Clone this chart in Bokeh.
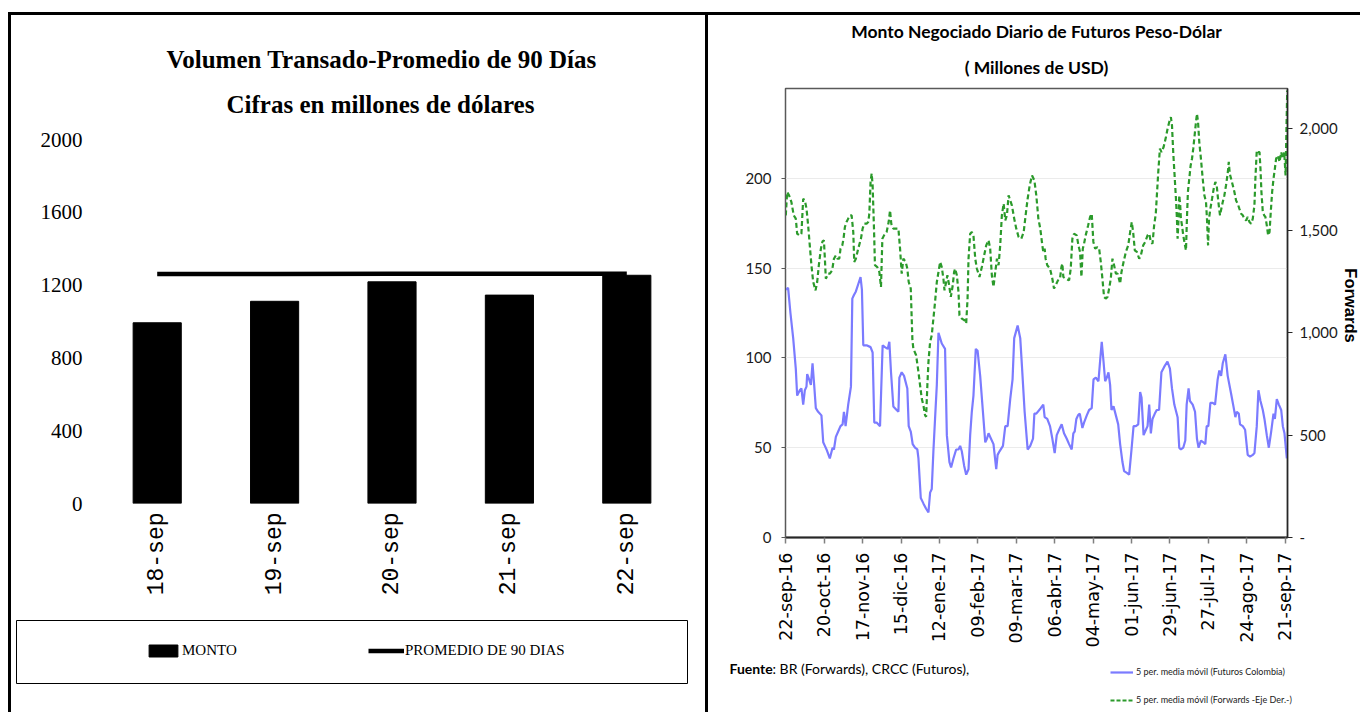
import math
import pandas as pd
from bokeh.plotting import figure
from bokeh.models import (Range1d, FixedTicker, LinearAxis, Legend, LegendItem,
                          Label, Title)
from bokeh.layouts import row, column
from bokeh.embed import file_html
from bokeh.resources import INLINE

# ---------------- Left chart data ----------------
categories = ["18-sep", "19-sep", "20-sep", "21-sep", "22-sep"]
monto = [993, 1111, 1218, 1145, 1254]
promedio_90 = [1261, 1261, 1262, 1262, 1263]
left_ticks = [0, 400, 800, 1200, 1600, 2000]

# ---------------- Right chart data ----------------
start_date = "2016-09-22"   # day 0 of the offsets below
fut_day = [0, 1.7, 3.4, 5.4, 7.3, 8.3, 10.2, 11.4, 12.7, 13.9, 15.1, 15.6, 17.0, 18.3, 19.5, 20.7,
           21.9, 23.6, 26.0, 27.3, 28.5, 29.7, 32.1, 34.1, 35.1, 36.5, 38.2, 39.9, 41.4, 42.4, 43.6,
           45.5, 47.5, 48.5, 49.7, 51.1, 52.8, 54.5, 55.5, 56.5, 58.9, 61.8, 63.3, 64.5, 66.2, 68.7,
           70.6, 72.3, 74.3, 75.5, 76.7, 78.4, 80.8, 82.1, 82.8, 84.5, 86.2, 88.6, 89.6, 91.1, 92.5,
           94.2, 95.9, 96.7, 98.4, 100.3, 102.3, 104.0, 105.2, 106.4, 107.6, 108.8, 110.1, 111.3,
           112.5, 113.7, 116.1, 117.4, 119.3, 120.5, 122.2, 124.2, 125.9, 127.1, 128.3, 130.0, 131.5,
           133.2, 134.4, 135.6, 136.8, 138.5, 139.8, 141.7, 143.7, 145.4, 146.6, 147.8, 149.0, 151.4,
           153.4, 154.4, 155.8, 158.3, 160.0, 161.7, 163.6, 165.3, 166.5, 169.0, 170.9, 172.1, 174.1,
           176.3, 178.2, 180.2, 181.2, 182.6, 185.8, 187.7, 188.7, 190.6, 192.6, 194.3, 196.0, 197.5,
           199.2, 201.1, 202.8, 204.8, 206.5, 208.4, 209.6, 210.6, 211.8, 213.0, 214.3, 216.2, 217.4,
           219.4, 221.1, 223.0, 224.3, 226.0, 227.9, 229.2, 230.3, 231.6, 232.8, 234.0, 235.2, 236.4,
           237.4, 238.9, 240.6, 242.3, 243.7, 245.4, 246.6, 248.6, 250.3, 252.0, 253.5, 255.2, 256.9,
           258.3, 259.3, 260.8, 262.5, 263.7, 264.9, 266.1, 267.3, 269.0, 270.4, 272.1, 273.8, 275.8,
           278.2, 280.0, 281.5, 283.2, 285.6, 286.8, 288.0, 289.7, 291.2, 292.2, 293.6, 294.6, 296.6,
           298.3, 299.7, 300.9, 302.6, 304.4, 305.8, 306.8, 308.0, 309.5, 311.2, 312.9, 314.8, 316.0,
           317.3, 318.5, 320.4, 322.1, 324.6, 326.3, 327.7, 328.7, 330.2, 331.1, 333.1, 334.8, 336.0,
           336.7, 338.4, 340.4, 341.6, 343.3, 344.5, 346.0, 347.7, 348.9, 350.6, 352.1, 353.8, 355.5,
           356.5, 357.9, 359.4, 361.1, 362.3, 363.5, 365.2]
fut_val = [138, 139, 125, 111, 94, 79, 82, 83, 74, 82, 84, 91, 88, 85, 97, 85,
           72, 70, 68, 53, 51, 49, 44, 50, 49, 56, 59, 62, 63, 70, 62,
           74, 84, 133, 135, 137, 141, 145, 138, 107, 107, 106, 103, 64, 64, 62,
           107, 106, 105, 109, 92, 73, 71, 70, 89, 92, 90, 83, 62, 59, 52,
           50, 49, 44, 22, 19, 16, 14, 25, 27, 48, 66, 85, 114,
           111, 108, 105, 57, 42, 39, 44, 49, 49, 51, 48, 40, 35,
           38, 57, 70, 79, 105, 104, 90, 70, 53, 55, 58, 56, 52,
           38, 46, 48, 51, 62, 62, 77, 88, 111, 118, 111, 96, 70,
           49, 51, 55, 69, 69, 72, 74, 67, 66, 62, 55, 47, 57,
           60, 63, 58, 55, 52, 49, 58, 59, 66, 68, 69, 61, 64,
           68, 71, 72, 88, 89, 87, 99, 109, 98, 87, 89, 92, 85,
           71, 73, 68, 63, 52, 42, 37, 36, 35, 49, 62, 62, 63,
           81, 78, 57, 60, 62, 74, 58, 66, 69, 71, 71, 92, 95,
           98, 94, 83, 74, 67, 50, 49, 50, 54, 74, 83, 76, 74,
           70, 55, 50, 54, 53, 52, 62, 62, 75, 75, 74, 88, 93,
           90, 97, 102, 90, 80, 73, 67, 70, 69, 63, 62, 60, 51,
           46, 45, 46, 47, 62, 82, 76, 71, 66, 57, 50, 59, 69,
           66, 77, 74, 71, 62, 58, 44]

fwd_day = [0, 1.0, 2.4, 4.1, 5.8, 7.3, 8.3, 10.2, 11.4, 12.7, 13.9, 15.1, 16.3, 17.5, 18.7, 20.0,
           21.7, 22.9, 24.1, 25.6, 26.8, 27.8, 28.5, 29.2, 30.9, 32.1, 33.8, 35.1, 36.5, 37.7, 39.0,
           39.9, 41.2, 42.1, 43.1, 44.3, 45.5, 46.8, 48.0, 49.2, 49.9, 51.1, 52.8, 54.8, 56.0, 57.2,
           58.9, 60.1, 60.9, 61.8, 62.6, 63.3, 64.3, 65.0, 66.7, 68.2, 69.4, 70.4, 71.6, 73.5, 75.0,
           76.0, 76.9, 78.4, 80.1, 82.1, 83.3, 84.5, 85.7, 87.4, 88.6, 89.6, 91.1, 92.3, 93.0, 95.0,
           96.7, 97.9, 99.1, 100.3, 101.5, 102.3, 103.2, 104.0, 105.2, 106.4, 107.6, 108.8, 110.1,
           111.3, 112.5, 113.7, 114.9, 115.7, 116.9, 117.8, 119.1, 120.3, 121.7, 122.7, 123.4, 124.7,
           125.9, 126.6, 128.3, 130.3, 131.5, 132.5, 133.2, 134.4, 135.6, 136.8, 138.1, 139.3, 141.2,
           142.9, 144.6, 146.1, 147.8, 149.0, 150.2, 151.4, 152.7, 153.9, 155.1, 156.3, 157.5, 158.8,
           160.0, 161.2, 162.4, 163.6, 164.8, 166.5, 168.0, 169.7, 171.7, 173.4, 175.1, 176.3, 177.8,
           179.5, 181.2, 182.6, 184.1, 185.5, 187.0, 187.7, 188.7, 189.4, 190.6, 192.6, 194.3, 195.5,
           196.7, 198.4, 199.9, 200.9, 201.6, 202.3, 204.0, 206.5, 207.7, 208.9, 210.1, 212.1, 213.3,
           214.5, 215.5, 216.5, 217.4, 218.6, 220.4, 221.8, 223.0, 224.2, 225.5, 227.2, 228.4, 229.6,
           230.8, 232.0, 233.2, 234.5, 235.7, 236.9, 238.1, 239.3, 240.6, 241.8, 242.5, 243.7, 244.7,
           246.2, 247.9, 249.6, 251.0, 252.2, 253.2, 254.4, 255.9, 257.6, 258.8, 260.5, 262.0, 263.7,
           264.9, 266.1, 267.3, 268.5, 269.7, 271.5, 272.7, 273.9, 275.4, 277.1, 278.3, 279.5, 280.7,
           281.5, 282.4, 283.4, 284.4, 285.1, 285.6, 286.3, 286.8, 287.5, 288.0, 288.8, 289.7, 291.0,
           291.7, 292.4, 293.1, 294.1, 295.1, 296.1, 297.0, 298.0, 299.0, 299.7, 300.5, 301.4, 302.6,
           303.9, 305.1, 306.3, 307.0, 307.8, 308.5, 309.5, 310.7, 311.9, 313.1, 314.1, 314.8, 315.6,
           316.5, 317.5, 318.5, 319.7, 320.9, 322.1, 322.9, 323.6, 324.6, 325.8, 327.0, 328.2, 329.4,
           330.6, 331.9, 333.1, 334.3, 335.5, 336.7, 338.0, 339.2, 340.4, 341.6, 342.3, 343.3, 344.3,
           345.3, 346.0, 346.7, 347.7, 348.7, 349.6, 350.6, 351.6, 352.6, 353.5, 354.5, 355.5, 356.5,
           357.4, 358.7, 359.9, 361.1, 362.3, 363.3, 364.3, 364.7, 365.5]
fwd_val = [1575, 1689, 1673, 1640, 1575, 1559, 1485, 1477, 1485, 1656, 1648, 1608, 1526, 1428, 1331, 1249,
           1208, 1249, 1331, 1412, 1448, 1453, 1363, 1265, 1290, 1290, 1306, 1363, 1379, 1363, 1363,
           1412, 1428, 1461, 1518, 1542, 1559, 1575, 1575, 1493, 1347, 1363, 1412, 1461, 1510, 1534,
           1534, 1542, 1583, 1738, 1779, 1722, 1510, 1331, 1322, 1298, 1225, 1461, 1477, 1493, 1542,
           1599, 1534, 1510, 1510, 1510, 1412, 1290, 1363, 1347, 1314, 1249, 1217, 965, 923, 891,
           809, 744, 679, 647, 598, 590, 744, 858, 956, 989, 1070, 1151, 1249,
           1298, 1347, 1322, 1265, 1208, 1249, 1282, 1233, 1176, 1233, 1298, 1314, 1282,
           1200, 1086, 1070, 1062, 1046, 1168, 1363, 1485, 1493, 1477, 1363, 1314, 1274,
           1322, 1379, 1428, 1453, 1412, 1282, 1225, 1298, 1363, 1331, 1428, 1575, 1632,
           1550, 1575, 1673, 1648, 1624, 1559, 1510, 1469, 1461, 1493, 1591, 1656, 1722,
           1770, 1746, 1673, 1559, 1510, 1428, 1396, 1412, 1363, 1331, 1314, 1265, 1217,
           1233, 1257, 1265, 1322, 1339, 1274, 1265, 1257, 1314, 1461, 1485, 1477, 1428,
           1396, 1274, 1412, 1436, 1477, 1526, 1567, 1583, 1445, 1412, 1420, 1412, 1347,
           1265, 1176, 1168, 1176, 1217, 1265, 1363, 1331, 1290, 1290, 1274, 1241, 1298,
           1347, 1396, 1428, 1493, 1542, 1493, 1404, 1396, 1363, 1379, 1428, 1445, 1477,
           1485, 1445, 1436, 1526, 1583, 1787, 1901, 1884, 1909, 1958, 1998, 2031, 2055,
           2015, 1884, 1770, 1656, 1559, 1461, 1559, 1673, 1624, 1559, 1526, 1477, 1428,
           1404, 1559, 1689, 1754, 1819, 1852, 1901, 1966, 2031, 2072, 2031, 1933, 1852,
           1754, 1673, 1640, 1559, 1428, 1559, 1608, 1656, 1705, 1738, 1722, 1673, 1624,
           1575, 1608, 1640, 1673, 1722, 1779, 1836, 1779, 1754, 1722, 1689, 1648, 1632,
           1608, 1583, 1575, 1559, 1550, 1567, 1542, 1534, 1559, 1624, 1754, 1892, 1884,
           1884, 1803, 1689, 1591, 1575, 1567, 1526, 1477, 1493, 1591, 1689, 1754, 1803,
           1852, 1868, 1836, 1884, 1852, 1884, 1770, 1917, 2185]

x_tick_labels = ["22-sep-16", "20-oct-16", "17-nov-16", "15-dic-16", "12-ene-17", "09-feb-17",
                 "09-mar-17", "06-abr-17", "04-may-17", "01-jun-17", "29-jun-17", "27-jul-17",
                 "24-ago-17", "21-sep-17"]
fut_axis_ticks = [0, 50, 100, 150, 200]
fwd_axis_ticks = [0, 500, 1000, 1500, 2000]
fwd_axis_labels = ["-", "500", "1,000", "1,500", "2,000"]

BLUE = "#7b7bff"
GREEN = "#2b9a2b"

# ---------------- Left chart ----------------
lc = figure(x_range=categories, y_range=Range1d(0, 2000), width=694, height=590,
            output_backend="svg", toolbar_location=None,
            min_border_left=87, min_border_right=20, min_border_top=124, min_border_bottom=102)
lc.frame_align = False
lc.outline_line_color = None
lc.grid.visible = False
lc.vbar(x=categories, top=monto, width=0.41, color="black")
lc.line(x=categories, y=promedio_90, line_color="black", line_width=4.5)

lc.title.text = "Volumen Transado-Promedio de 90 Días"
lc.title.align = "left"
lc.title.offset = 68
lc.title.text_font = "Liberation Serif"
lc.title.text_font_style = "bold"
lc.title.text_font_size = "25px"
lc.title.text_color = "black"
lc.title.standoff = -13
lc.add_layout(Title(text="Cifras en millones de dólares", align="left", offset=128,
                    text_font="Liberation Serif", text_font_style="bold", text_color="black",
                    text_font_size="25px", standoff=44), "above")

ya = lc.yaxis[0]
ya.ticker = FixedTicker(ticks=left_ticks)
ya.axis_line_color = None
ya.major_tick_line_color = None
ya.minor_tick_line_color = None
ya.major_tick_out = 0
ya.minor_tick_out = 0
ya.major_label_standoff = 16
ya.major_label_text_font = "Liberation Serif"
ya.major_label_text_font_size = "21px"
ya.major_label_text_color = "black"

xa = lc.xaxis[0]
xa.axis_line_color = None
xa.major_tick_line_color = None
xa.major_tick_out = 0
xa.major_label_orientation = math.pi / 2
xa.major_label_standoff = 9
xa.major_label_text_font = "Liberation Mono"
xa.major_label_text_font_size = "23px"
xa.major_label_text_color = "black"

# legend box under the left chart (its renderers reuse the data, out of view)
lg = figure(width=694, height=107, x_range=categories, y_range=Range1d(-2, -1),
            x_axis_type=None, y_axis_type=None, output_backend="svg", toolbar_location=None,
            min_border_left=5, min_border_right=18, min_border_top=15, min_border_bottom=29)
lg.frame_align = False
lg.outline_line_color = "black"
lg.outline_line_width = 1
lg.grid.visible = False
r_bar = lg.vbar(x=categories, top=monto, width=0.41, color="black")
r_line = lg.line(x=categories, y=promedio_90, line_color="black", line_width=4.5)
left_legend = Legend(items=[LegendItem(label="MONTO", renderers=[r_bar]),
                            LegendItem(label="PROMEDIO DE 90 DIAS", renderers=[r_line])],
                     orientation="horizontal", location=(129, 24), glyph_width=36, glyph_height=15,
                     label_height=15, label_standoff=1, spacing=130, label_width=56, padding=0,
                     margin=0, border_line_color=None, background_fill_alpha=0,
                     label_text_font="Liberation Serif", label_text_font_size="15px",
                     label_text_color="black")
lg.add_layout(left_legend, "center")

# ---------------- Right chart ----------------
rc = figure(x_range=Range1d(-0.2, 365.7), y_range=Range1d(0, 250), width=632, height=635,
            output_backend="svg", toolbar_location=None,
            min_border_left=77, min_border_right=53, min_border_top=73, min_border_bottom=112)
rc.frame_align = False
rc.extra_y_ranges = {"fwd": Range1d(0, 2195)}
rc.outline_line_color = "#595959"
rc.outline_line_width = 1.5
rc.xgrid.visible = False
rc.ygrid.ticker = FixedTicker(ticks=fut_axis_ticks[1:])
rc.ygrid.grid_line_color = "#ebebeb"
rc.ygrid.grid_line_width = 1

r_fut = rc.line(fut_day, fut_val, line_color=BLUE, line_width=2.2)
r_fwd = rc.line(fwd_day, fwd_val, y_range_name="fwd", line_color=GREEN, line_width=2.2,
                line_dash="5 3")

rc.title.text = "Monto Negociado Diario de Futuros Peso-Dólar"
rc.title.align = "center"
rc.title.text_font = "Lato"
rc.title.text_font_style = "bold"
rc.title.text_font_size = "17.5px"
rc.title.text_color = "black"
rc.title.standoff = 5
rc.add_layout(Title(text="( Millones de USD)", align="center",
                    text_font="Lato", text_font_style="bold", text_font_size="17.5px",
                    text_color="black", standoff=21), "above")

la = rc.yaxis[0]
la.ticker = FixedTicker(ticks=fut_axis_ticks)
la.axis_line_color = "#595959"
la.major_tick_line_color = "#595959"
la.major_tick_out = 4
la.major_tick_in = 0
la.minor_tick_line_color = None
la.major_label_standoff = 10
la.major_label_text_font = "Lato"
la.major_label_text_font_size = "15px"
la.major_label_text_color = "#1a1a1a"

ra = LinearAxis(y_range_name="fwd")
ra.ticker = FixedTicker(ticks=fwd_axis_ticks)
ra.major_label_overrides = {t: s for t, s in zip(fwd_axis_ticks, fwd_axis_labels)}
ra.axis_line_color = "#262626"
ra.axis_line_width = 1.5
ra.major_tick_line_color = "#262626"
ra.major_tick_out = 5
ra.major_tick_in = 0
ra.minor_tick_line_color = None
ra.major_label_standoff = 7
ra.major_label_text_font = "Lato"
ra.major_label_text_font_size = "15px"
ra.major_label_text_color = "#1a1a1a"
rc.add_layout(ra, "right")

month_num = {"ene": 1, "feb": 2, "mar": 3, "abr": 4, "may": 5, "jun": 6, "jul": 7,
             "ago": 8, "sep": 9, "oct": 10, "nov": 11, "dic": 12}
t0 = pd.Timestamp(start_date)
tick_days = []
for lab in x_tick_labels:
    d, m, y = lab.split("-")
    tick_days.append(int((pd.Timestamp(2000 + int(y), month_num[m], int(d)) - t0).days))

ba = rc.xaxis[0]
ba.ticker = FixedTicker(ticks=tick_days)
ba.major_label_overrides = {t: s for t, s in zip(tick_days, x_tick_labels)}
ba.axis_line_color = "#262626"
ba.axis_line_width = 2
ba.major_tick_line_color = "#808080"
ba.major_tick_line_width = 1.5
ba.major_tick_out = 6
ba.major_tick_in = 0
ba.minor_tick_line_color = None
ba.major_label_orientation = math.pi / 2
ba.major_label_standoff = 9
ba.major_label_text_font = "DejaVu Sans"
ba.major_label_text_font_size = "17.5px"
ba.major_label_text_color = "black"

# footer under the right chart: source note and legend
ft = figure(width=632, height=62, x_range=Range1d(-0.2, 365.7), y_range=Range1d(-2, -1),
            x_axis_type=None, y_axis_type=None, output_backend="svg", toolbar_location=None,
            min_border_left=0, min_border_right=0, min_border_top=0, min_border_bottom=0,
            title=None)
ft.frame_align = False
ft.outline_line_color = None
ft.grid.visible = False
f_fut = ft.line(fut_day, fut_val, line_color=BLUE, line_width=2.2)
f_fwd = ft.line(fwd_day, fwd_val, line_color=GREEN, line_width=2.2, line_dash="4 2")
ft.add_layout(Label(x=21, y=44, x_units="screen", y_units="screen", text="Fuente",
                    text_baseline="middle", text_font="Lato", text_font_style="bold",
                    text_font_size="14px", text_color="black"))
ft.add_layout(Label(x=64, y=44, x_units="screen", y_units="screen",
                    text=": BR (Forwards), CRCC (Futuros),",
                    text_baseline="middle", text_font="Lato", text_font_size="14px",
                    text_color="black"))
right_legend = Legend(items=[LegendItem(label="5 per. media móvil (Futuros Colombia)", renderers=[f_fut]),
                             LegendItem(label="5 per. media móvil (Forwards -Eje Der.-)", renderers=[f_fwd])],
                      orientation="vertical", location=(402, 7), glyph_width=23, glyph_height=10,
                      label_height=10, label_standoff=3, spacing=17, padding=0, margin=0,
                      border_line_color=None, background_fill_alpha=0,
                      label_text_font="Lato", label_text_font_size="9px",
                      label_text_color="#1a1a1a")
ft.add_layout(right_legend, "center")

# narrow strip at the right edge carrying the secondary-axis title
st = figure(width=20, height=697, x_range=Range1d(0, 1), y_range=Range1d(0, 1),
            x_axis_type=None, y_axis_type=None, output_backend="svg", toolbar_location=None,
            min_border_left=0, min_border_right=0, min_border_top=0, min_border_bottom=0,
            title=None)
st.frame_align = False
st.outline_line_color = None
st.grid.visible = False
st.add_layout(Label(x=10, y=407, x_units="screen", y_units="screen", text="Forwards",
                    angle=-math.pi / 2, text_align="center", text_baseline="middle",
                    text_font="Liberation Sans", text_font_style="bold",
                    text_font_size="16.5px", text_color="black"))

left_col = column(lc, lg, styles={"border-right": "3px solid black"})
right_col = column(rc, ft)
page = row(left_col, right_col, st, styles={"margin-top": "12px", "margin-left": "8px",
                                            "border-top": "3px solid black",
                                            "border-left": "3px solid black"})

open("out.html", "w").write(file_html(page, INLINE))
